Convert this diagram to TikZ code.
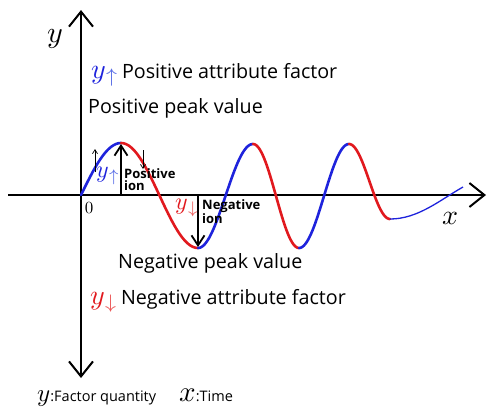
\documentclass[tikz,border=0pt]{standalone}
\usepackage{fontspec}
\usepackage{graphicx}
\setmainfont{Open Sans}
\usetikzlibrary{arrows.meta}
\definecolor{wblue}{RGB}{30,35,220}
\definecolor{wred}{RGB}{225,25,30}
\definecolor{lblue}{RGB}{90,110,230}
\definecolor{lred}{RGB}{235,90,90}
\newcommand{\mysc}[2]{\scalebox{#1}{\fontsize{10}{12}\selectfont$#2$}}
\begin{document}
\begin{tikzpicture}[x=1pt,y=-1pt,
  axis/.style={line width=2pt,-{Straight Barb[length=15pt,width=24pt,line width=2pt]}},
  wave/.style={line width=2.6pt,line cap=round},
  peakarrow/.style={line width=1.8pt,-{Straight Barb[length=10pt,width=13pt,line width=1.8pt]}},
  thinarrow/.style={line width=0.7pt,-{Straight Barb[length=4pt,width=5pt,line width=0.7pt]}},
  lbl/.style={font=\fontsize{19.7}{22}\selectfont,anchor=base west,inner sep=0pt},
  ionlbl/.style={font=\bfseries\fontsize{13}{12}\selectfont,align=left,anchor=north west,inner sep=0pt},
  mathlbl/.style={inner sep=0pt}]
\useasboundingbox (0,0) rectangle (487,408);
% axes
\coordinate (O) at (81,195);
\coordinate (ytop) at (81,10);
\coordinate (ybot) at (81,378);
\coordinate (xl) at (8,195);
\coordinate (xr) at (486,195);
\draw[axis] (O) -- (ytop);
\draw[axis] (O) -- (ybot);
\draw[axis] (xl) -- (xr);
% wave
\draw[wave,wblue] plot[domain=81:121,samples=30] (\x,{195-52*sin(90*(\x-81)/40)});
\draw[wave,wred] plot[domain=121:198,samples=50] (\x,{195.5-52.5*cos(180*(\x-121)/77)});
\draw[wave,wblue] plot[domain=198:253,samples=50] (\x,{196+52*cos(180*(\x-198)/55)});
\draw[wave,wred] plot[domain=253:299,samples=50] (\x,{196-52*cos(180*(\x-253)/46)});
\draw[wave,wblue] plot[domain=299:349,samples=50] (\x,{196+52*cos(180*(\x-299)/50)});
\draw[wave,wred] plot[domain=349:390,samples=50] (\x,{181.5-37.5*cos(180*(\x-349)/41)});
\coordinate (tr3) at (390,219);
\coordinate (wend) at (463,187);
\draw[line width=1.3pt,wblue] (tr3) .. controls (418,219) and (440,200) .. (wend);
% peak arrows
\coordinate (pk1b) at (121,195);
\coordinate (pk1) at (121,144);
\coordinate (tr1b) at (198,195);
\coordinate (tr1) at (198,247);
\draw[peakarrow] (pk1b) -- (pk1);
\draw[peakarrow] (tr1b) -- (tr1);
% thin arrows
\coordinate (ua1) at (95,172);
\coordinate (ua2) at (95,149);
\coordinate (da1) at (143,150);
\coordinate (da2) at (143,169);
\draw[thinarrow] (ua1) -- (ua2);
\draw[thinarrow] (da1) -- (da2);
% labels near wave
\node[mathlbl] (yup) at (108,176) {\mysc{2.4}{\textcolor{wblue}{y}_{\textcolor{lblue}{\uparrow}}}};
\node[ionlbl] (posion) at (124,168) {Positive\\ion};
\node[mathlbl] (ydn) at (187,208) {\mysc{2.4}{\textcolor{wred}{y}_{\textcolor{lred}{\downarrow}}}};
\node[ionlbl] (negion) at (202,199) {Negative\\ion};
\node[mathlbl] (zero) at (89,208) {\mysc{1.7}{0}};
\node[mathlbl] (xlab) at (450,218) {\mysc{2.8}{x}};
\node[mathlbl] (ylab) at (55,39) {\mysc{3.0}{y}};
% side labels
\node[lbl] (posattr) at (91,78) {\mysc{2.8}{\textcolor{wblue}{y}_{\textcolor{lblue}{\uparrow}}}\,Positive attribute factor};
\node[lbl] (pospeak) at (88,113) {Positive peak value};
\node[lbl] (negpeak) at (118,268) {Negative peak value};
\node[lbl] (negattr) at (90,304) {\mysc{2.8}{\textcolor{wred}{y}_{\textcolor{lred}{\downarrow}}}\,Negative attribute factor};
% legend
\node[anchor=base west,inner sep=0pt] (legy) at (37,401) {\mysc{2.5}{y}{\fontsize{14.5}{16}\selectfont:Factor quantity}};
\node[anchor=base west,inner sep=0pt] (legx) at (179,401) {\mysc{2.9}{x}{\fontsize{14.5}{16}\selectfont:Time}};
\end{tikzpicture}
\end{document}
